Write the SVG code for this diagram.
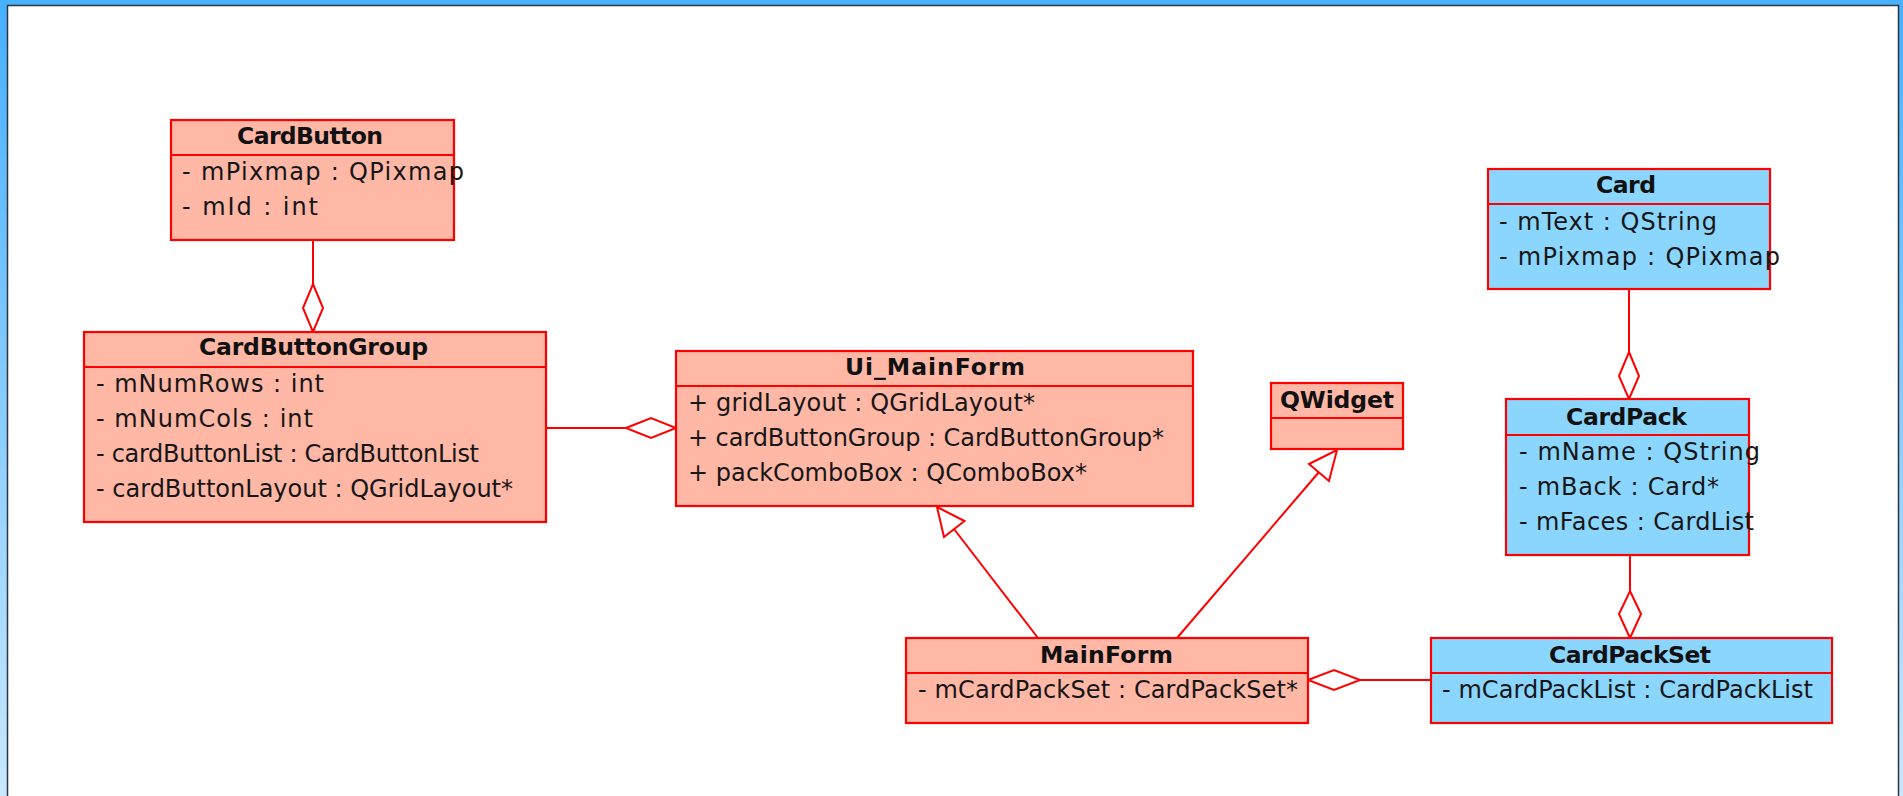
<svg xmlns="http://www.w3.org/2000/svg" width="1903" height="796" viewBox="0 0 1903 796">
  <defs>
    <linearGradient id="frameGrad" x1="0" y1="0" x2="0" y2="1">
      <stop offset="0" stop-color="#46b0ff"/>
      <stop offset="1" stop-color="#c8e8ff"/>
    </linearGradient>
    <style>
      .cls { stroke: #ff0000; stroke-width: 2.2; }
      .salmon { fill: #ffb7a6; }
      .blue { fill: #8ad6fe; }
      .sep { stroke: #ff0000; stroke-width: 2.2; }
      .title { font-family: "DejaVu Sans", "Verdana", sans-serif; font-weight: bold; font-size: 23.5px; fill: #111; }
      .attr { font-family: "DejaVu Sans", "Verdana", sans-serif; font-size: 24px; fill: #161616; }
      .edge { stroke: #ff0000; stroke-width: 2; fill: none; }
      .head { stroke: #ff0000; stroke-width: 2; fill: #ffffff; stroke-linejoin: miter; }
    </style>
  </defs>

  <!-- window frame -->
  <rect x="0" y="0" width="1903" height="796" fill="url(#frameGrad)"/>
  <rect x="0" y="0" width="1903" height="5.5" fill="#48b2ff"/>
  <rect x="8" y="6" width="1890" height="790" fill="#ffffff"/>
  <path d="M7.5 796 V5.5 H1898.5 V796" fill="none" stroke="#2c3640" stroke-width="1.5"/>

  <!-- connectors -->
  <g id="connectors">
    <!-- CardButton aggregated by CardButtonGroup -->
    <line class="edge" x1="313" y1="240" x2="313" y2="284"/>
    <polygon class="head" points="313,284 323,308 313,332 303,308"/>
    <!-- CardButtonGroup aggregated by Ui_MainForm -->
    <line class="edge" x1="546" y1="428" x2="626" y2="428"/>
    <polygon class="head" points="626,428 651,418 676,428 651,438"/>
    <!-- MainForm generalizes Ui_MainForm -->
    <line class="edge" x1="1038" y1="638" x2="954" y2="529"/>
    <polygon class="head" points="937,507 964.5,521 944,537"/>
    <!-- MainForm generalizes QWidget -->
    <line class="edge" x1="1177" y1="638" x2="1319" y2="472"/>
    <polygon class="head" points="1337,450 1329,481 1309,464"/>
    <!-- CardPackSet aggregated by MainForm -->
    <line class="edge" x1="1360" y1="680" x2="1431" y2="680"/>
    <polygon class="head" points="1308,680 1334,670 1360,680 1334,690"/>
    <!-- Card aggregated by CardPack -->
    <line class="edge" x1="1629" y1="289" x2="1629" y2="352"/>
    <polygon class="head" points="1629,352 1639,376 1629,399 1619,376"/>
    <!-- CardPack aggregated by CardPackSet -->
    <line class="edge" x1="1630" y1="555" x2="1630" y2="591"/>
    <polygon class="head" points="1630,591 1641,614 1630,638 1619,614"/>
  </g>

  <!-- CardButton -->
  <g id="CardButton">
    <rect class="cls salmon" x="171" y="120" width="283" height="120"/>
    <line class="sep" x1="171" y1="155" x2="454" y2="155"/>
    <text class="title" x="237" y="144" textLength="146">CardButton</text>
    <text class="attr" x="182" y="180" textLength="282">- mPixmap : QPixmap</text>
    <text class="attr" x="182" y="215" textLength="136">- mId : int</text>
  </g>

  <!-- CardButtonGroup -->
  <g id="CardButtonGroup">
    <rect class="cls salmon" x="84" y="332" width="462" height="190"/>
    <line class="sep" x1="84" y1="367" x2="546" y2="367"/>
    <text class="title" x="199" y="355" textLength="229">CardButtonGroup</text>
    <text class="attr" x="96" y="392" textLength="228">- mNumRows : int</text>
    <text class="attr" x="96" y="427" textLength="217">- mNumCols : int</text>
    <text class="attr" x="96" y="462" textLength="383">- cardButtonList : CardButtonList</text>
    <text class="attr" x="96" y="497" textLength="417">- cardButtonLayout : QGridLayout*</text>
  </g>

  <!-- Ui_MainForm -->
  <g id="Ui_MainForm">
    <rect class="cls salmon" x="676" y="351" width="517" height="155"/>
    <line class="sep" x1="676" y1="386" x2="1193" y2="386"/>
    <text class="title" x="845" y="375" textLength="180">Ui_MainForm</text>
    <text class="attr" x="688" y="411" textLength="347">+ gridLayout : QGridLayout*</text>
    <text class="attr" x="688" y="446" textLength="476">+ cardButtonGroup : CardButtonGroup*</text>
    <text class="attr" x="688" y="481" textLength="399">+ packComboBox : QComboBox*</text>
  </g>

  <!-- QWidget -->
  <g id="QWidget">
    <rect class="cls salmon" x="1271" y="383" width="132" height="66"/>
    <line class="sep" x1="1271" y1="418" x2="1403" y2="418"/>
    <text class="title" x="1280" y="408" textLength="114">QWidget</text>
  </g>

  <!-- MainForm -->
  <g id="MainForm">
    <rect class="cls salmon" x="906" y="638" width="402" height="85"/>
    <line class="sep" x1="906" y1="673" x2="1308" y2="673"/>
    <text class="title" x="1040" y="663" textLength="133">MainForm</text>
    <text class="attr" x="918" y="698" textLength="380">- mCardPackSet : CardPackSet*</text>
  </g>

  <!-- CardPackSet -->
  <g id="CardPackSet">
    <rect class="cls blue" x="1431" y="638" width="401" height="85"/>
    <line class="sep" x1="1431" y1="673" x2="1832" y2="673"/>
    <text class="title" x="1549" y="663" textLength="162">CardPackSet</text>
    <text class="attr" x="1442" y="698" textLength="371">- mCardPackList : CardPackList</text>
  </g>

  <!-- Card -->
  <g id="Card">
    <rect class="cls blue" x="1488" y="169" width="282" height="120"/>
    <line class="sep" x1="1488" y1="204" x2="1770" y2="204"/>
    <text class="title" x="1596" y="193" textLength="60">Card</text>
    <text class="attr" x="1499" y="230" textLength="218">- mText : QString</text>
    <text class="attr" x="1499" y="265" textLength="281">- mPixmap : QPixmap</text>
  </g>

  <!-- CardPack -->
  <g id="CardPack">
    <rect class="cls blue" x="1506" y="399" width="243" height="156"/>
    <line class="sep" x1="1506" y1="435" x2="1749" y2="435"/>
    <text class="title" x="1566" y="425" textLength="121">CardPack</text>
    <text class="attr" x="1519" y="460" textLength="241">- mName : QString</text>
    <text class="attr" x="1519" y="495" textLength="200">- mBack : Card*</text>
    <text class="attr" x="1519" y="530" textLength="235">- mFaces : CardList</text>
  </g>
</svg>
